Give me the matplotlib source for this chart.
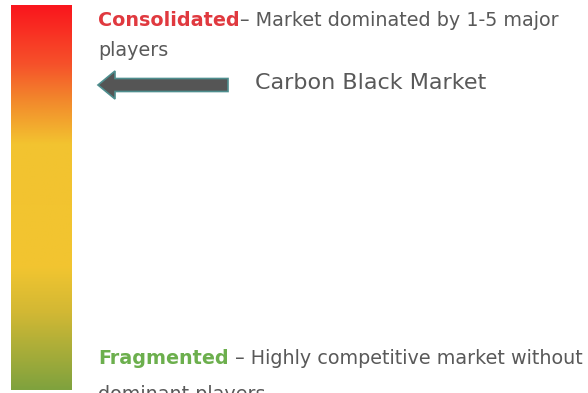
import numpy as np
import matplotlib.pyplot as plt
import matplotlib.patches as mpatches
from matplotlib.colors import LinearSegmentedColormap

# gradient stops for the concentration scale, top (consolidated) to bottom (fragmented)
stop_pos = [0.0, 0.15, 0.25, 0.36, 0.68, 0.80, 1.0]
stop_colors = ["#FA161D", "#F6502A", "#F28A2C", "#F2C330", "#F2C530", "#D2B834", "#7FA23E"]

top_label = "Consolidated"
top_text = "\u2013 Market dominated by 1-5 major"
top_text2 = "players"
bottom_label = "Fragmented"
bottom_text = " \u2013 Highly competitive market without"
bottom_text2 = "dominant players"
market_name = "Carbon Black Market"

plt.rcParams['font.family'] = ['DejaVu Sans']

fig = plt.figure(figsize=(5.88, 3.93), dpi=100)
ax = fig.add_axes([0, 0, 1, 1])
ax.set_xlim(0, 588)
ax.set_ylim(393, 0)
ax.axis('off')

# vertical colour bar
cmap = LinearSegmentedColormap.from_list("conc", list(zip(stop_pos, stop_colors)))
grad = np.linspace(0, 1, 256).reshape(-1, 1)
ax.imshow(grad, cmap=cmap, aspect='auto', extent=[11, 72, 390, 5], interpolation='bilinear')

grey = "#595959"
fs = 13.8
renderer = fig.canvas.get_renderer()


def two_tone(x, y, head, rest, head_color):
    t = ax.text(x, y, head, color=head_color, fontsize=fs, fontweight='bold', va='center')
    bb = t.get_window_extent(renderer=renderer)
    inv = ax.transData.inverted()
    x_end = inv.transform((bb.x1, bb.y0))[0]
    ax.text(x_end, y, rest, color=grey, fontsize=fs, va='center')


two_tone(98, 21, top_label, top_text, "#E0393F")
ax.text(98, 51, top_text2, color=grey, fontsize=fs, va='center')

two_tone(98, 359, bottom_label, bottom_text, "#6CAF4D")
ax.text(98, 394, bottom_text2, color=grey, fontsize=fs, va='center')

# arrow pointing at the consolidated end
arrow = mpatches.FancyArrow(228, 85, -130, 0, width=13, head_width=28, head_length=17,
                            length_includes_head=True, fc="#555555", ec="#4E8E8E", lw=1.2)
ax.add_patch(arrow)
ax.text(255, 83, market_name, color=grey, fontsize=16, va='center')

fig.savefig("out.png", dpi=100)
